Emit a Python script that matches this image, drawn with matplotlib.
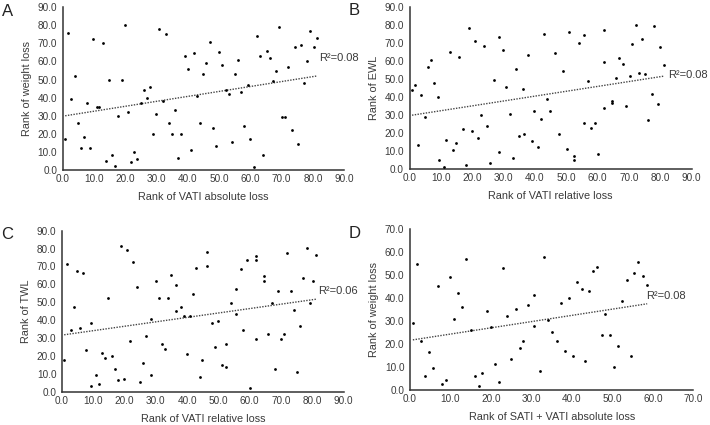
import numpy as np
import matplotlib
matplotlib.use("Agg")
import matplotlib.pyplot as plt

plt.rcParams['font.family'] = ['Liberation Sans', 'DejaVu Sans']

# panel A - rank of VATI absolute loss vs rank of weight loss
a_x = [0.8, 1.7, 2.8, 3.8, 4.9, 5.7, 6.8, 7.9, 8.8, 9.8,
       10.9, 11.7, 12.8, 13.8, 14.8, 15.9, 16.8, 17.8, 18.8, 19.9,
       20.9, 21.9, 22.9, 23.9, 24.9, 25.9, 26.9, 27.9, 28.9, 29.9,
       30.9, 32.0, 32.9, 33.9, 35.0, 35.9, 36.9, 37.9, 39.0, 39.9,
       41.1, 41.9, 42.9, 44.0, 44.9, 45.9, 47.1, 48.0, 49.1, 50.1,
       51.0, 52.1, 53.0, 54.1, 55.1, 56.1, 57.1, 58.0, 59.2, 60.0,
       61.1, 62.2, 63.2, 64.1, 65.2, 66.1, 67.1, 68.2, 69.1, 70.2,
       71.1, 72.1, 73.2, 74.2, 75.1, 76.2, 77.2, 78.2, 79.2, 80.2,
       81.3]
a_y = [17, 76, 39, 52, 26, 12, 18, 37, 12, 72.5,
       35, 35, 70, 5, 50, 8, 2, 30, 50, 80,
       32, 4, 10, 6, 37, 44, 40, 46, 20, 31,
       78, 38, 75, 26, 20, 33, 6.5, 20, 63, 56,
       11, 64.5, 41, 26, 53, 59, 71, 23, 13, 65,
       58, 44, 42, 15.5, 53, 61, 43, 24, 47, 17,
       1.5, 74, 63, 8, 66, 62, 49, 54.5, 79, 29,
       29, 57, 22, 68, 14, 69, 48, 60, 77, 68,
       73]

# panel B - rank of VATI relative loss vs rank of EWL
b_x = [0.8, 1.8, 2.8, 3.8, 4.8, 5.8, 6.8, 7.8, 9.2, 9.3,
       10.9, 11.7, 12.8, 13.8, 14.8, 15.9, 16.9, 17.9, 18.9, 19.8,
       20.8, 21.9, 22.8, 23.9, 24.8, 25.8, 27.0, 28.4, 28.5, 29.9,
       30.9, 31.9, 32.9, 33.9, 34.9, 36.3, 36.4, 37.9, 38.9, 39.8,
       40.9, 41.9, 43.0, 43.9, 44.8, 46.5, 47.8, 49.0, 50.1, 51.0,
       52.6, 52.6, 54.0, 55.5, 55.5, 57.0, 58.0, 59.1, 60.0, 62.1,
       62.1, 62.1, 64.6, 64.6, 66.0, 66.9, 68.0, 69.0, 70.2, 71.1,
       72.1, 73.1, 74.1, 75.0, 76.1, 77.2, 78.1, 79.1, 80.0, 81.2]
b_y = [43.7, 46.5, 13, 40.7, 28.9, 56.3, 60.4, 47.6, 39.6, 4.8,
       1.1, 16.1, 65, 10.7, 14.1, 62.2, 22, 2.2, 78, 20.9,
       70.9, 17, 29.8, 68.1, 23.7, 3.3, 49.4, 73, 9.1, 66.1,
       45.6, 30.7, 6.1, 55.4, 18, 44.4, 19.4, 63.1, 15.2, 32,
       12, 27.8, 75, 38.7, 32.2, 64.3, 19.4, 54.3, 10.9, 75.9,
       7.2, 4.8, 69.8, 74.1, 25.4, 48.5, 22.6, 25.4, 8.3, 76.9,
       59.3, 33.7, 37.4, 36.8, 50.6, 61.3, 58.1, 34.6, 51.5, 69.1,
       79.8, 53.3, 72.2, 52.4, 27, 41.7, 79.1, 35.7, 67.4, 57.4]

# panel C - rank of VATI relative loss vs rank of TWL
c_x = [0.7, 1.7, 2.8, 3.7, 4.8, 5.8, 6.7, 7.8, 9.3, 9.4,
       10.9, 11.8, 12.8, 13.8, 14.8, 15.9, 16.8, 17.8, 18.8, 19.8,
       20.8, 21.8, 22.8, 23.9, 24.8, 25.8, 26.9, 28.3, 28.4, 29.9,
       30.9, 31.9, 32.9, 33.9, 34.9, 36.3, 36.5, 37.9, 39.0, 39.9,
       40.9, 41.9, 42.9, 44.0, 44.8, 46.4, 46.4, 47.9, 49.0, 49.9,
       51.0, 52.5, 52.5, 54.1, 55.5, 55.6, 57.1, 58.0, 59.1, 60.1,
       62.1, 62.1, 62.1, 64.6, 64.6, 66.0, 67.0, 68.2, 69.1, 70.1,
       71.0, 72.0, 73.1, 74.1, 75.1, 76.2, 77.1, 78.2, 79.2, 80.1,
       81.2]
c_y = [17.5, 71.1, 34.3, 47.3, 67.4, 35.8, 66.3, 23.1, 38.2, 3.2,
       9.5, 4.3, 21.8, 18.8, 52.5, 20.1, 12.5, 6.3, 81.4, 7.1,
       79.1, 28.1, 72.4, 58.5, 5.2, 16.2, 30.9, 40.6, 9.5, 61.6,
       52.5, 26.4, 23.8, 52.5, 65.4, 59.4, 44.9, 47.3, 42.5, 21.2,
       42.5, 54.4, 69.1, 8.2, 17.5, 78.2, 70.4, 38.2, 25, 39.7,
       15.1, 14, 26.4, 49.7, 57.5, 43.6, 68.5, 34.3, 73.7, 1.9,
       75.6, 73.7, 29.4, 64.4, 61.6, 32.4, 49.7, 12.5, 56.1, 29.2,
       32.4, 77.5, 56.1, 45.6, 11.2, 36.9, 63.5, 80.4, 49.7, 61.6,
       76.2]

# panel D - rank of SATI + VATI absolute loss vs rank of weight loss
d_x = [0.7, 1.7, 2.7, 3.7, 4.8, 5.8, 6.8, 7.8, 8.8, 9.8,
       10.8, 11.9, 12.9, 13.8, 15.0, 16.0, 17.0, 17.9, 18.9, 19.9,
       21.0, 21.9, 23.0, 24.0, 25.0, 26.1, 27.1, 28.0, 29.1, 30.6,
       30.6, 32.1, 33.2, 34.2, 35.2, 36.2, 37.3, 38.2, 39.2, 40.2,
       41.2, 42.4, 43.3, 44.3, 45.3, 46.3, 47.4, 48.3, 49.4, 50.4,
       51.4, 52.5, 53.5, 54.5, 55.4, 56.4, 57.6, 58.6]
d_y = [29.2, 54.9, 21.3, 6, 16.4, 9.4, 45.3, 2.5, 4.5, 49.1,
       30.8, 42.1, 36.3, 56.9, 26.1, 6, 1.6, 7.5, 34.3, 27.3,
       11.3, 3.6, 53, 32.4, 13.4, 35.1, 18.3, 21.3, 37, 41.2,
       28, 8.4, 57.9, 30.6, 25.3, 21.2, 38, 17.1, 40.1, 14.8,
       47, 44, 12.5, 43.1, 52, 53.8, 23.8, 33.1, 23.8, 10.2,
       19.2, 38.9, 47.8, 14.8, 50.8, 55.9, 49.8, 45.9]

txt = '#3a3a3a'

fig = plt.figure(figsize=(7.1, 4.25), dpi=100)


def panel(rect, x, y, xlab, ylab, letter, r2, r2_pos, top):
    ax = fig.add_axes(rect)
    ax.scatter(x, y, s=4, color='black', linewidths=0, zorder=3)

    # linear trend through the points
    k, b = np.polyfit(x, y, 1)
    xs = np.array([min(x), max(x)])
    ax.plot(xs, k * xs + b, color='#444444', lw=1.0, ls=(0, (1, 1)))
    ax.text(r2_pos[0], r2_pos[1], r2, fontsize=8, color=txt,
            va='center', ha='left', clip_on=False)

    ax.set_xlim(0, top[0])
    ax.set_ylim(0, top[1])
    ax.set_xticks(np.arange(0, top[0] + 1, 10))
    ax.set_yticks(np.arange(0, top[1] + 1, 10))
    ax.xaxis.set_major_formatter(matplotlib.ticker.FormatStrFormatter('%.1f'))
    ax.yaxis.set_major_formatter(matplotlib.ticker.FormatStrFormatter('%.1f'))
    ax.tick_params(length=0, labelsize=7.2, labelcolor=txt)
    ax.tick_params(axis='y', pad=4)
    ax.tick_params(axis='x', pad=3)
    for s in ['top', 'right']:
        ax.spines[s].set_visible(False)
    for s in ['left', 'bottom']:
        ax.spines[s].set_color('#333333')
        ax.spines[s].set_linewidth(1.1)
    ax.set_xlabel(xlab, fontsize=7.8, color=txt, labelpad=6)
    ax.set_ylabel(ylab, fontsize=7.8, color=txt, labelpad=4)
    ax.text(-0.215, 1.02, letter, transform=ax.transAxes, fontsize=12,
            color='#222222', va='top', ha='left')
    return ax


panel([0.0883, 0.6007, 0.3966, 0.382], a_x, a_y,
      'Rank of VATI absolute loss', 'Rank of weight loss', 'A',
      'R²=0.08', (81.9, 62), (90, 90))
panel([0.5768, 0.6026, 0.3975, 0.382], b_x, b_y,
      'Rank of VATI relative loss', 'Rank of EWL', 'B',
      'R²=0.08', (82.5, 52), (90, 90))
panel([0.0873, 0.0784, 0.3966, 0.379], c_x, c_y,
      'Rank of VATI relative loss', 'Rank of TWL', 'C',
      'R²=0.06', (81.8, 56), (90, 90))
panel([0.5775, 0.0824, 0.399, 0.378], d_x, d_y,
      'Rank of SATI + VATI absolute loss', 'Rank of weight loss', 'D',
      'R²=0.08', (58.3, 41), (70, 70))

fig.savefig('out.png', dpi=100)
